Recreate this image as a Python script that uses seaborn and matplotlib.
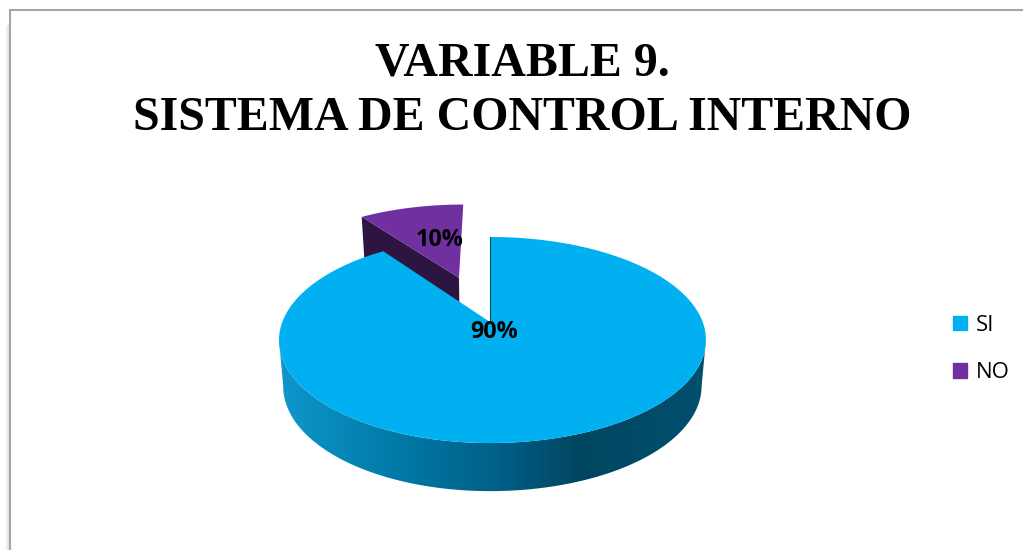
import numpy as np
import matplotlib
matplotlib.use("Agg")
import matplotlib.pyplot as plt
import seaborn as sns
from matplotlib.colors import LinearSegmentedColormap
from matplotlib.patches import Patch, Polygon

# Data
labels = ["SI", "NO"]
values = [90, 10]
title_lines = ["VARIABLE 9.", "SISTEMA DE CONTROL INTERNO"]

# Colours
slice_colors = ["#00B0F0", "#7030A0"]
cut_color = "#2E1440"
wall_colors = ["#0E97CC", "#0079A6", "#00628A", "#004660", "#00506F"]

# Pie geometry in pixels, with a simple perspective
CX, CY = 490, 322
SCALE_X, SCALE_Y = 210.2, 99.9
TILT = 0.1747
OFFSET = (-0.16, 0.48)


def project(theta, r=1.0, offset=(0.0, 0.0), down=False):
    """Maps pie angles (degrees) on the disc to picture pixels."""
    theta = np.radians(np.atleast_1d(theta))
    x = r * np.cos(theta) + offset[0]
    y = r * np.sin(theta) + offset[1]
    w = 1 + TILT * y
    px = SCALE_X * x / w
    py = SCALE_Y * y / w
    # the blue ellipse sits a little right of its tip
    if offset == (0.0, 0.0):
        px = px + 2.5 * np.abs(x)
    if down:
        return CX + 0.98 * px, CY + (45.5 - 5 * y) - 0.98 * py
    return CX + px, CY - py


def outline(theta1, theta2, offset=(0.0, 0.0)):
    """Top face of a slice: the tip, then the rim."""
    thetas = np.linspace(theta1, theta2, 200)
    rx, ry = project(thetas, offset=offset)
    tx, ty = project(0, r=0, offset=offset)
    return np.column_stack([np.r_[tx, rx], np.r_[ty, ry]])


sns.set_theme(style="white")
plt.rcParams["font.family"] = ["Open Sans", "DejaVu Sans"]

fig = plt.figure(figsize=(10.23, 5.5), dpi=100)
ax = fig.add_axes([0, 0, 1, 1])

wedges, _, pct = ax.pie(
    values,
    colors=slice_colors,
    startangle=90,
    counterclock=False,
    autopct="%1.0f%%",
)
main, small = wedges
for w in wedges:
    w.set_visible(False)

# Purple slice, pulled out of the pie
x1, y1 = project(small.theta2, offset=OFFSET)
x2, y2 = project(small.theta2, offset=OFFSET, down=True)
x3, y3 = project(0, r=0, offset=OFFSET, down=True)
x4, y4 = project(0, r=0, offset=OFFSET)
ax.add_patch(Polygon(np.column_stack([np.r_[x1, x2, x3, x4], np.r_[y1, y2, y3, y4]]),
                     facecolor=cut_color, edgecolor="none", zorder=2))
ax.add_patch(Polygon(outline(small.theta1, small.theta2, OFFSET),
                     facecolor=slice_colors[1], edgecolor="none", zorder=3))

# Side wall of the blue slice, with its gradient
wall_angles = np.linspace(190, 350, 200)
tx, ty = project(wall_angles)
bx, by = project(wall_angles, down=True)
wall = Polygon(np.column_stack([np.r_[tx, bx[::-1]], np.r_[ty, by[::-1]]]),
               facecolor="none", edgecolor="none", zorder=4)
ax.add_patch(wall)
wall_cmap = LinearSegmentedColormap.from_list(
    "wall", list(zip([0, 0.28, 0.5, 0.7, 1], wall_colors))
)
gradient = np.linspace(0, 1, 256).reshape(1, -1)
im = ax.imshow(gradient, cmap=wall_cmap, extent=(279, 706, 495, 300),
               aspect="auto", zorder=4)
im.set_clip_path(wall)

# Top face of the blue slice
ax.add_patch(Polygon(outline(main.theta1, main.theta2),
                     facecolor=slice_colors[0], edgecolor="none", zorder=5))
ex, ey = project(main.theta2)
ax.plot([CX, ex[0]], [CY, ey[0]], color="#00506F", lw=0.8, zorder=5)

# Percent labels from the pie
pct[0].set_position((494, 332))
pct[1].set_position((439.5, 240))
for t in pct:
    t.set_fontsize(16.8)
    t.set_fontweight("bold")
    t.set_color("black")
    t.set_zorder(6)

# Title
ax.text(522, 63, title_lines[0], family="Liberation Serif", fontweight="bold",
        fontsize=34.5, ha="center", va="center", color="black")
ax.text(522, 118, title_lines[1], family="Liberation Serif", fontweight="bold",
        fontsize=34.5, ha="center", va="center", color="black")

# Chart frame, only the top and left sides show
for i, a in enumerate([0.03, 0.06, 0.09]):
    ax.plot([6 + i, 6 + i], [25, 550], color="black", alpha=a, lw=1, zorder=0)
ax.plot([10, 10, 1023], [550, 10, 10], color="#A6A6A6", lw=1.5, zorder=1,
        solid_joinstyle="miter")

ax.legend(
    handles=[Patch(color=c, label=l) for c, l in zip(slice_colors, labels)],
    loc="center left",
    bbox_to_anchor=(933, 349),
    bbox_transform=ax.transData,
    frameon=False,
    fontsize=16,
    labelcolor="black",
    handlelength=0.62,
    handleheight=0.62,
    handletextpad=0.4,
    labelspacing=1.2,
)

ax.set_xlim(0, 1023)
ax.set_ylim(550, 0)
ax.set_aspect("auto")
ax.axis("off")

fig.savefig("out.png", dpi=100)
